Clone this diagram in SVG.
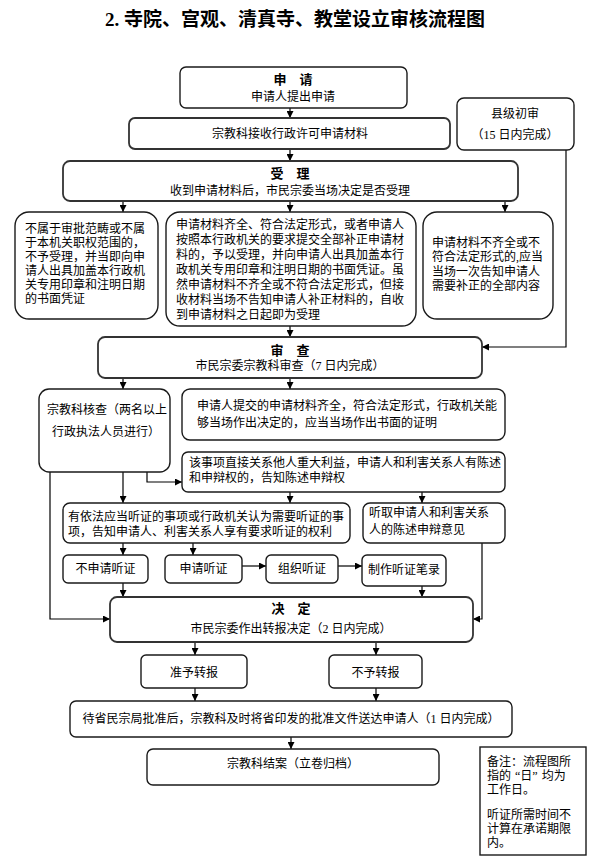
<svg xmlns="http://www.w3.org/2000/svg" width="590" height="863" viewBox="0 0 590 863">
<style>
  text{font-family:"Liberation Serif","Noto Sans CJK SC",serif;font-size:12px;fill:#000}
  .t{font-size:19px;font-weight:bold}
  .b{font-size:13px;font-weight:bold}
  .c{text-anchor:middle}
  .n rect{fill:#fff;stroke:#1a1a1a;stroke-width:1.4}
  .k rect{stroke:#333;stroke-width:1.8}
  .e path{fill:none;stroke:#000;stroke-width:1.2}
</style>
<defs>
  <marker id="a" viewBox="0 0 10 10" refX="10" refY="5" markerWidth="7" markerHeight="7" orient="auto" markerUnits="userSpaceOnUse">
    <path d="M0,0 L10,5 L0,10 z" fill="#000"/>
  </marker>
</defs>
<rect width="590" height="863" fill="#fff"/>
<text class="t c" x="295" y="26">2. 寺院、宫观、清真寺、教堂设立审核流程图</text>

<g class="e">
  <path d="M290,108 V118" marker-end="url(#a)"/>
  <path d="M290,149 V161" marker-end="url(#a)"/>
  <path d="M123,201 V212" marker-end="url(#a)"/>
  <path d="M290,201 V212" marker-end="url(#a)"/>
  <path d="M505,201 V212" marker-end="url(#a)"/>
  <path d="M566,150 V347 H482" marker-end="url(#a)"/>
  <path d="M290,326 V337" marker-end="url(#a)"/>
  <path d="M123,378 V389" marker-end="url(#a)"/>
  <path d="M290,378 V389" marker-end="url(#a)"/>
  <path d="M147,472 V482 H182" marker-end="url(#a)"/>
  <path d="M123,472 V503" marker-end="url(#a)"/>
  <path d="M50,472 V619 H110" marker-end="url(#a)"/>
  <path d="M290,492 V503" marker-end="url(#a)"/>
  <path d="M422,492 V503" marker-end="url(#a)"/>
  <path d="M123,543 V555" marker-end="url(#a)"/>
  <path d="M193,543 V555" marker-end="url(#a)"/>
  <path d="M242,566 H266" marker-end="url(#a)"/>
  <path d="M338,566 H362" marker-end="url(#a)"/>
  <path d="M422,586 V597" marker-end="url(#a)"/>
  <path d="M123,583 V597" marker-end="url(#a)"/>
  <path d="M482,543 V619 H473" marker-end="url(#a)"/>
  <path d="M195,642 V655" marker-end="url(#a)"/>
  <path d="M376,642 V655" marker-end="url(#a)"/>
  <path d="M195,688 V701" marker-end="url(#a)"/>
  <path d="M376,688 V701" marker-end="url(#a)"/>
  <path d="M291,737 V749" marker-end="url(#a)"/>
</g>

<g id="n-shenqing" class="n"><rect x="180" y="67" width="227" height="41" rx="6"/>
  <text class="b c" x="293" y="84">申　请</text>
  <text class="c" x="293" y="101">申请人提出申请</text></g>

<g id="n-jieshou" class="n k"><rect x="129" y="118" width="321" height="31" rx="6"/>
  <text class="c" x="290" y="138">宗教科接收行政许可申请材料</text></g>

<g id="n-xianji" class="n"><rect x="457" y="98" width="117" height="52" rx="7"/>
  <text class="c" x="515" y="118">县级初审</text>
  <text class="c" x="515" y="139">（15 日内完成）</text></g>

<g id="n-shouli" class="n k"><rect x="63" y="161" width="455" height="40" rx="7"/>
  <text class="b c" x="290" y="178">受　理</text>
  <text class="c" x="290" y="195">收到申请材料后，市民宗委当场决定是否受理</text></g>

<g id="n-buyu" class="n"><rect x="15" y="212" width="143" height="107" rx="14"/>
  <text x="25" y="233">不属于审批范畴或不属</text>
  <text x="25" y="247">于本机关职权范围的，</text>
  <text x="25" y="261">不予受理，并当即向申</text>
  <text x="25" y="275">请人出具加盖本行政机</text>
  <text x="25" y="289">关专用印章和注明日期</text>
  <text x="25" y="303">的书面凭证</text></g>

<g id="n-qiquan" class="n"><rect x="166" y="212" width="250" height="114" rx="14"/>
  <text x="176" y="229">申请材料齐全、符合法定形式，或者申请人</text>
  <text x="176" y="244">按照本行政机关的要求提交全部补正申请材</text>
  <text x="176" y="259">料的，予以受理，并向申请人出具加盖本行</text>
  <text x="176" y="274">政机关专用印章和注明日期的书面凭证。虽</text>
  <text x="176" y="289">然申请材料不齐全或不符合法定形式，但接</text>
  <text x="176" y="304">收材料当场不告知申请人补正材料的，自收</text>
  <text x="176" y="319">到申请材料之日起即为受理</text></g>

<g id="n-buqi" class="n"><rect x="423" y="212" width="130" height="107" rx="14"/>
  <text x="432" y="247">申请材料不齐全或不</text>
  <text x="432" y="261">符合法定形式的,应当</text>
  <text x="432" y="276">当场一次告知申请人</text>
  <text x="432" y="290">需要补正的全部内容</text></g>

<g id="n-shencha" class="n k"><rect x="98" y="337" width="384" height="41" rx="7"/>
  <text class="b c" x="290" y="355">审　查</text>
  <text class="c" x="290" y="370">市民宗委宗教科审查（7 日内完成）</text></g>

<g id="n-hecha" class="n"><rect x="39" y="389" width="131" height="83" rx="10"/>
  <text x="47" y="414">宗教科核查（两名以上</text>
  <text x="52" y="436">行政执法人员进行）</text></g>

<g id="n-dangchang" class="n"><rect x="182" y="389" width="323" height="51" rx="8"/>
  <text x="197" y="410">申请人提交的申请材料齐全，符合法定形式，行政机关能</text>
  <text x="197" y="427">够当场作出决定的，应当当场作出书面的证明</text></g>

<g id="n-gaozhi" class="n"><rect x="182" y="452" width="323" height="40" rx="6"/>
  <text x="189" y="467">该事项直接关系他人重大利益，申请人和利害关系人有陈述</text>
  <text x="189" y="482">和申辩权的，告知陈述申辩权</text></g>

<g id="n-tingzheng" class="n"><rect x="63" y="503" width="287" height="40" rx="7"/>
  <text x="68" y="521">有依法应当听证的事项或行政机关认为需要听证的事</text>
  <text x="68" y="536">项，告知申请人、利害关系人享有要求听证的权利</text></g>

<g id="n-tingqu" class="n"><rect x="363" y="503" width="142" height="40" rx="7"/>
  <text x="369" y="517">听取申请人和利害关系</text>
  <text x="369" y="534">人的陈述申辩意见</text></g>

<g id="n-bushen" class="n"><rect x="63" y="555" width="85" height="28" rx="5"/>
  <text class="c" x="105.5" y="573">不申请听证</text></g>

<g id="n-shen" class="n"><rect x="165" y="555" width="77" height="28" rx="5"/>
  <text class="c" x="203.5" y="573">申请听证</text></g>

<g id="n-zuzhi" class="n"><rect x="266" y="555" width="72" height="28" rx="5"/>
  <text class="c" x="302" y="573">组织听证</text></g>

<g id="n-bilu" class="n"><rect x="362" y="555" width="84" height="31" rx="5"/>
  <text class="c" x="404" y="574">制作听证笔录</text></g>

<g id="n-jueding" class="n k"><rect x="110" y="597" width="363" height="45" rx="7"/>
  <text class="b c" x="291" y="613">决　定</text>
  <text class="c" x="291" y="633">市民宗委作出转报决定（2 日内完成）</text></g>

<g id="n-zhunyu" class="n"><rect x="141" y="655" width="106" height="33" rx="5"/>
  <text class="c" x="194" y="677">准予转报</text></g>

<g id="n-buyuzb" class="n"><rect x="329" y="655" width="93" height="33" rx="5"/>
  <text class="c" x="375.5" y="677">不予转报</text></g>

<g id="n-songda" class="n"><rect x="70" y="701" width="442" height="36" rx="6"/>
  <text class="c" x="291" y="723">待省民宗局批准后，宗教科及时将省印发的批准文件送达申请人（1 日内完成）</text></g>

<g id="n-jiean" class="n"><rect x="147" y="749" width="292" height="36" rx="6"/>
  <text class="c" x="293" y="768">宗教科结案（立卷归档）</text></g>

<g id="n-beizhu" class="n"><rect x="480" y="747" width="106" height="108" rx="0"/>
  <text x="487" y="766">备注：流程图所</text>
  <text x="487" y="780">指的<tspan dx="4">“</tspan>日”<tspan dx="4">均为</tspan></text>
  <text x="487" y="794">工作日。</text>
  <text x="487" y="819">听证所需时间不</text>
  <text x="487" y="833">计算在承诺期限</text>
  <text x="487" y="847">内。</text></g>
</svg>
